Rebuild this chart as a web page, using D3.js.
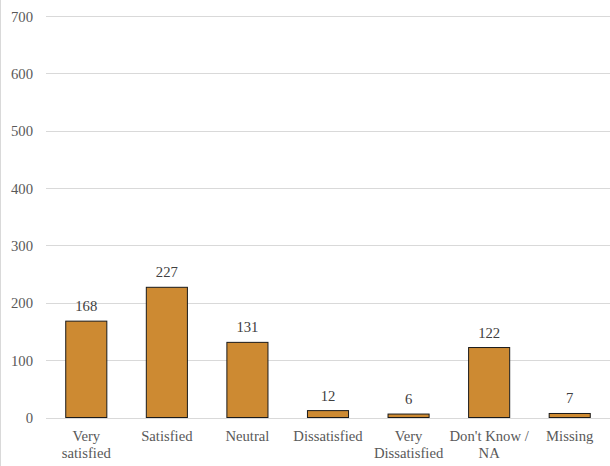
<!DOCTYPE html>
<html><head><meta charset="utf-8">
<script src="https://cdn.jsdelivr.net/npm/d3@7"></script>
<style>body{margin:0;background:#fff}svg{display:block}text{font-family:"Liberation Serif","Times New Roman",serif}</style>
</head><body>
<script>
const categories = ["Very satisfied","Satisfied","Neutral","Dissatisfied","Very Dissatisfied","Don't Know / NA","Missing"];
const categoryLines = [["Very","satisfied"],["Satisfied"],["Neutral"],["Dissatisfied"],["Very","Dissatisfied"],["Don't Know /","NA"],["Missing"]];
const values = [168,227,131,12,6,122,7];
const yTicks = [0,100,200,300,400,500,600,700];

const W=610,H=466,FS=14.7;
const svg=d3.select("body").append("svg").attr("width",W).attr("height",H);
const x=d3.scaleBand().domain(categories).range([46,610]).paddingInner(0.49).paddingOuter(0.245);
const y=d3.scaleLinear().domain([0,700]).range([417.5,16]);

svg.append("line").attr("x1",0.5).attr("x2",0.5).attr("y1",0).attr("y2",H).attr("stroke","#d9d9d9");

svg.append("g").selectAll("line").data(yTicks).join("line")
  .attr("x1",46).attr("x2",610).attr("y1",d=>Math.round(y(d))+0.5).attr("y2",d=>Math.round(y(d))+0.5)
  .attr("stroke","#d9d9d9").attr("stroke-width",1);

svg.append("g").selectAll("text").data(yTicks).join("text")
  .attr("x",33).attr("y",d=>y(d)+5.5).attr("text-anchor","end")
  .attr("font-size",FS).attr("fill","#595959").text(d=>d);

svg.append("g").selectAll("rect").data(values).join("rect")
  .attr("x",(d,i)=>x(categories[i])).attr("width",x.bandwidth())
  .attr("y",d=>y(d)).attr("height",d=>y(0)-y(d))
  .attr("fill","#CD8A32").attr("stroke","#1a1a1a").attr("stroke-width",1);

svg.append("g").selectAll("text").data(values).join("text")
  .attr("x",(d,i)=>x(categories[i])+x.bandwidth()/2).attr("y",d=>y(d)-10)
  .attr("text-anchor","middle").attr("font-size",FS).attr("fill","#404040").text(d=>d);

const lab=svg.append("g");
categories.forEach((c,i)=>{
  const t=lab.append("text").attr("x",x(c)+x.bandwidth()/2).attr("y",441)
    .attr("text-anchor","middle").attr("font-size",FS).attr("fill","#595959");
  categoryLines[i].forEach((l,j)=>t.append("tspan").attr("x",x(c)+x.bandwidth()/2).attr("dy",j?16.5:0).text(l));
});
</script>
</body></html>
